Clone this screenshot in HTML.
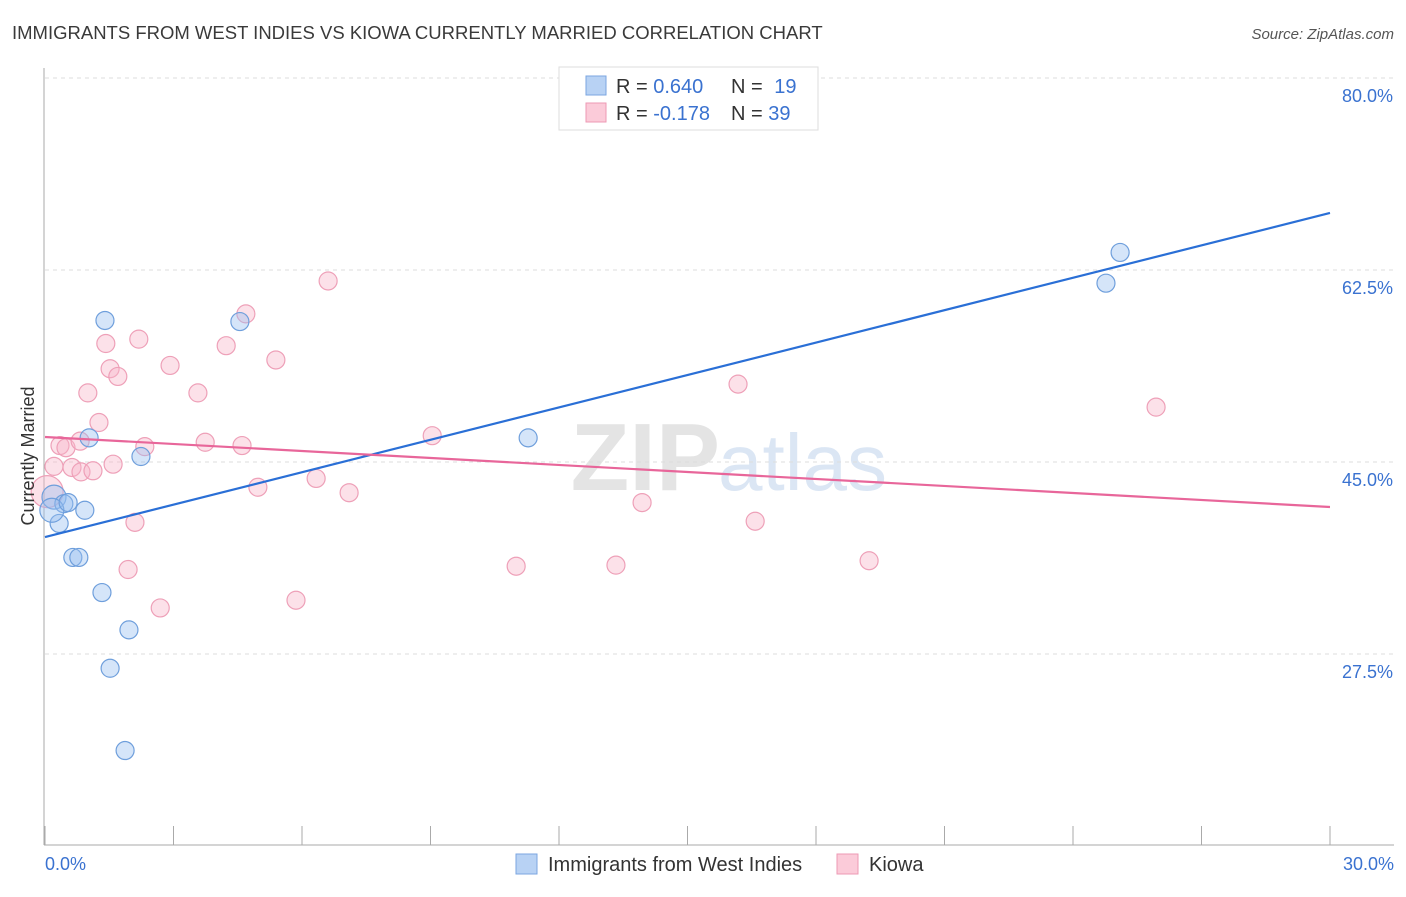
<!DOCTYPE html>
<html><head><meta charset="utf-8"><style>
body{margin:0;background:#fff;font-family:"Liberation Sans",sans-serif;}
svg text{font-family:"Liberation Sans",sans-serif;}
</style></head><body>
<svg id="chart" width="1406" height="892" xmlns="http://www.w3.org/2000/svg">
<text x="12" y="39" font-size="18.5" fill="#3a3a3a">IMMIGRANTS FROM WEST INDIES VS KIOWA CURRENTLY MARRIED CORRELATION CHART</text>
<text x="1394" y="39" font-size="15" fill="#555" font-style="italic" text-anchor="end">Source: ZipAtlas.com</text>
<text x="720" y="490" font-size="96" fill="#e4e4e4" text-anchor="end" font-family="Liberation Serif" font-weight="bold">ZIP</text>
<text x="718" y="490" font-size="80" fill="#dbe6f4">atlas</text>
<g id="grid"></g>
<g id="axes"></g>
<g id="points"></g>
<g id="lines"></g>
<text transform="translate(34,456) rotate(-90)" font-size="18" fill="#333" text-anchor="middle">Currently Married</text>
<g>
<rect x="559" y="67" width="259" height="63" fill="#fff" stroke="#ddd"/>
<rect x="586" y="76" width="20" height="19" fill="#b8d2f4" stroke="#7ba6e0"/>
<rect x="586" y="103" width="20" height="19" fill="#fbcbd9" stroke="#ee9ab4"/>
<text x="616" y="93" font-size="20" fill="#333">R = <tspan fill="#3a72d0">0.640</tspan></text>
<text x="731" y="93" font-size="20" fill="#333">N = <tspan fill="#3a72d0" dx="6">19</tspan></text>
<text x="616" y="120" font-size="20" fill="#333">R = <tspan fill="#3a72d0">-0.178</tspan></text>
<text x="731" y="120" font-size="20" fill="#333">N = <tspan fill="#3a72d0">39</tspan></text>
</g>
<g>
<rect x="516" y="854" width="21" height="20" fill="#b8d2f4" stroke="#7ba6e0"/>
<text x="548" y="871" font-size="20" fill="#333">Immigrants from West Indies</text>
<rect x="837" y="854" width="21" height="20" fill="#fbcbd9" stroke="#ee9ab4"/>
<text x="869" y="871" font-size="20" fill="#333">Kiowa</text>
</g>
</svg>
<script>
const blueX=[0.21,0.33,0.44,0.93,0.65,0.79,1.33,1.96,1.52,1.87,1.40,4.55,1.03,2.24,11.28,25.10,24.77,0.16,0.54];
const blueY=[41.8,39.4,41.2,40.6,36.3,36.3,33.1,29.7,26.2,18.7,57.9,57.8,47.2,45.5,47.2,64.1,61.3,40.6,41.3];
const pinkX=[0.05,0.21,0.35,0.49,0.63,0.82,0.84,1.12,1.26,1.00,1.42,1.52,1.70,2.19,1.59,2.33,2.10,1.94,2.69,2.92,3.57,3.74,4.23,4.60,4.69,4.97,5.39,5.86,6.33,6.61,7.10,9.04,11.00,13.33,13.94,16.18,16.58,19.24,25.94];
const pinkY=[42.3,44.6,46.5,46.3,44.5,46.9,44.1,44.2,48.6,51.3,55.8,53.5,52.8,56.2,44.8,46.4,39.5,35.2,31.7,53.8,51.3,46.8,55.6,46.5,58.5,42.7,54.3,32.4,43.5,61.5,42.2,47.4,35.5,35.6,41.3,52.1,39.6,36.0,50.0];
const blueTrend=[38.16,67.70];
const pinkTrend=[47.28,40.90];
const yTicks=[80,62.5,45,27.5];
const yTickLabels=["80.0%","62.5%","45.0%","27.5%"];
const xTicks=[0,3,6,9,12,15,18,21,24,27,30];
const NS="http://www.w3.org/2000/svg";
const sx=v=>45+v*42.833;
const sy=v=>462-(v-45)*10.971;
function mk(tag,attrs,parent){const e=document.createElementNS(NS,tag);for(const k in attrs)e.setAttribute(k,attrs[k]);document.getElementById(parent).appendChild(e);return e;}
yTicks.forEach((t,i)=>{
 const l=mk('line',{x1:45,x2:1394,y1:sy(t),y2:sy(t),stroke:'#ddd','stroke-dasharray':'4,4'},'grid');
 
 
 const tx=mk('text',{x:1393,y:sy(t)+24,'font-size':18,fill:'#3a72d0','text-anchor':'end'},'grid');
 tx.textContent=yTickLabels[i];
 
 
});
const ax=mk('line',{x1:44,x2:44,y1:68,y2:845,stroke:'#aaa'},'axes');


const bx=mk('line',{x1:44,x2:1394,y1:845,y2:845,stroke:'#aaa'},'axes');


xTicks.forEach(t=>{
 const l=mk('line',{x1:sx(t),x2:sx(t),y1:826,y2:845,stroke:'#aaa'},'axes');
 
 
});
const x0=mk('text',{x:45,y:870,'font-size':18,fill:'#3a72d0'},'axes');x0.textContent='0.0%';


const x1=mk('text',{x:1394,y:870,'font-size':18,fill:'#3a72d0','text-anchor':'end'},'axes');x1.textContent='30.0%';


pinkX.forEach((v,i)=>{
 const c=mk('circle',{cx:sx(v),cy:sy(pinkY[i]),r:i===0?16:9,fill:'rgba(248,180,200,0.4)',stroke:'#eea0b8','stroke-width':1.2},'points');
 
 
});
blueX.forEach((v,i)=>{
 const c=mk('circle',{cx:sx(v),cy:sy(blueY[i]),r:(i===0||i===17)?12:9,fill:'rgba(150,190,240,0.4)',stroke:'#6f9fdc','stroke-width':1.2},'points');
 
 
});
const bl=mk('line',{x1:sx(0),y1:sy(blueTrend[0]),x2:sx(30),y2:sy(blueTrend[1]),stroke:'#2a6fd6','stroke-width':2.2},'lines');


const pl=mk('line',{x1:sx(0),y1:sy(pinkTrend[0]),x2:sx(30),y2:sy(pinkTrend[1]),stroke:'#e8669a','stroke-width':2.2},'lines');


</script>
</body></html>
